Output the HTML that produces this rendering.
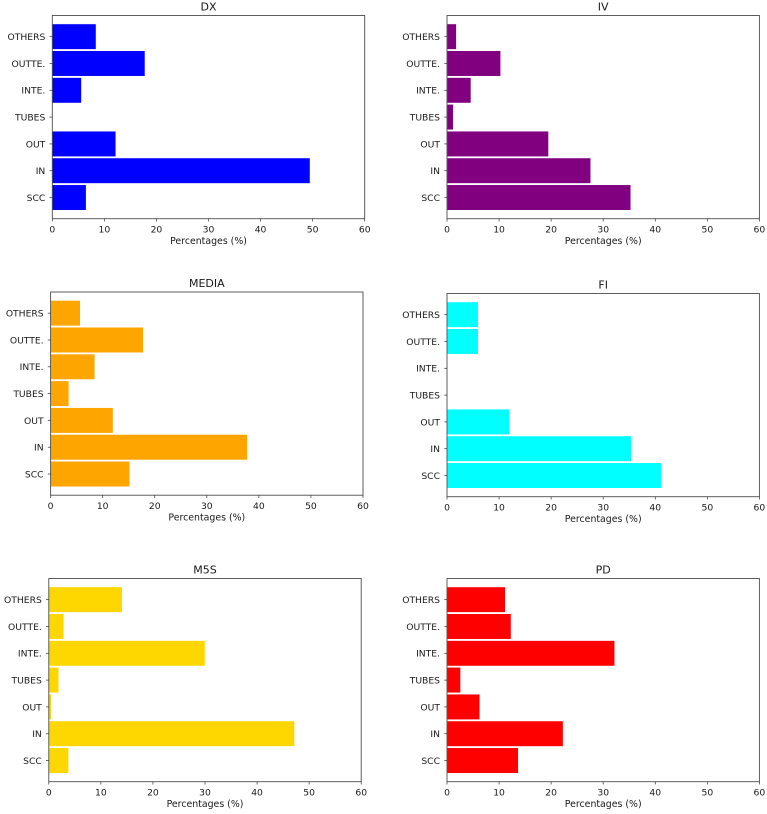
<!DOCTYPE html>
<html lang="en">
<head>
<meta charset="utf-8">
<title>Percentages by category</title>
<style>
html,body{margin:0;padding:0;background:#fff;}
body{width:767px;height:814px;overflow:hidden;}
svg{display:block;}
text{font-family:"DejaVu Sans","Liberation Sans",sans-serif;fill:#1a1a1a;}
</style>
</head>
<body>
<svg id="chart" width="767" height="814" viewBox="0 0 767 814" xmlns="http://www.w3.org/2000/svg"></svg>
<script>
const categories = ['SCC', 'IN', 'OUT', 'TUBES', 'INTE.', 'OUTTE.', 'OTHERS'];
const xTickLabels = [0, 10, 20, 30, 40, 50, 60];
const dxValues = [6.5, 49.5, 12.2, 0, 5.6, 17.8, 8.4];
const ivValues = [35.3, 27.6, 19.5, 1.2, 4.6, 10.3, 1.8];
const mediaValues = [15.2, 37.8, 12, 3.5, 8.5, 17.8, 5.7];
const fiValues = [41.2, 35.4, 12, 0, 0, 6, 6];
const m5sValues = [3.8, 47.2, 0.5, 1.9, 30, 2.9, 14.1];
const pdValues = [13.7, 22.3, 6.3, 2.6, 32.2, 12.3, 11.2];

const panels = [
  {title: 'DX', key: 'dx', values: dxValues, color: '#0000ff', left: 52.3, top: 15.5},
  {title: 'IV', key: 'iv', values: ivValues, color: '#800080', left: 447, top: 15.5},
  {title: 'MEDIA', key: 'media', values: mediaValues, color: '#ffa500', left: 50.6, top: 292},
  {title: 'FI', key: 'fi', values: fiValues, color: '#00ffff', left: 447, top: 293.5},
  {title: 'M5S', key: 'm5s', values: m5sValues, color: '#ffd700', left: 48.8, top: 578.5},
  {title: 'PD', key: 'pd', values: pdValues, color: '#ff0000', left: 447, top: 578.5}
];

const NS = 'http://www.w3.org/2000/svg';
const svg = document.getElementById('chart');
const axW = 312.4, axH = 203.2;
const xMax = 60, yMin = -0.79, yMax = 6.79, barHeight = 0.95;

function make(tag, attrs, parent) {
  const el = document.createElementNS(NS, tag);
  for (const k in attrs) el.setAttribute(k, attrs[k]);
  parent.appendChild(el);
  return el;
}
function xScale(p, v) { return p.left + (v / xMax) * axW; }
function yScale(p, i) { return p.top + axH - ((i - yMin) / (yMax - yMin)) * axH; }

panels.forEach(function (p) {
  const bottom = p.top + axH, right = p.left + axW;
  const g = make('g', {}, svg);
  
  

  p.values.forEach(function (v, i) {
    const x0 = xScale(p, 0), x1 = xScale(p, v);
    const yT = yScale(p, i + barHeight / 2), yB = yScale(p, i - barHeight / 2);
    if (v > 0) {
      const bar = make('rect', {x: x0, y: yT, width: x1 - x0, height: yB - yT, fill: p.color, stroke: '#ffffff', 'stroke-width': 0.5}, g);
      
      
    }
  });

  const frame = make('rect', {x: p.left, y: p.top, width: axW, height: axH, fill: 'none', stroke: '#4d4d4d', 'stroke-width': 0.9}, g);
  
  

  categories.forEach(function (c, i) {
    const y = yScale(p, i);
    const tick = make('line', {x1: p.left - 2.8, x2: p.left, y1: y, y2: y, stroke: '#333', 'stroke-width': 0.7}, g);
    
    
    const t = make('text', {x: p.left - 7, y: y + 3.4, 'text-anchor': 'end', 'font-size': 9.2}, g);
    t.textContent = c;
    
    
  });

  xTickLabels.forEach(function (v) {
    const x = xScale(p, v);
    const tick = make('line', {x1: x, x2: x, y1: bottom, y2: bottom + 2.8, stroke: '#333', 'stroke-width': 0.7}, g);
    
    
    const t = make('text', {x: x, y: bottom + 14, 'text-anchor': 'middle', 'font-size': 9.2}, g);
    t.textContent = v;
    
    
  });

  const xl = make('text', {x: p.left + axW / 2, y: bottom + 25.5, 'text-anchor': 'middle', 'font-size': 9.4}, g);
  xl.textContent = 'Percentages (%)';
  
  

  const title = make('text', {x: p.left + axW / 2, y: p.top - 5, 'text-anchor': 'middle', 'font-size': 11}, g);
  title.textContent = p.title;
  
  
});
</script>
</body>
</html>
